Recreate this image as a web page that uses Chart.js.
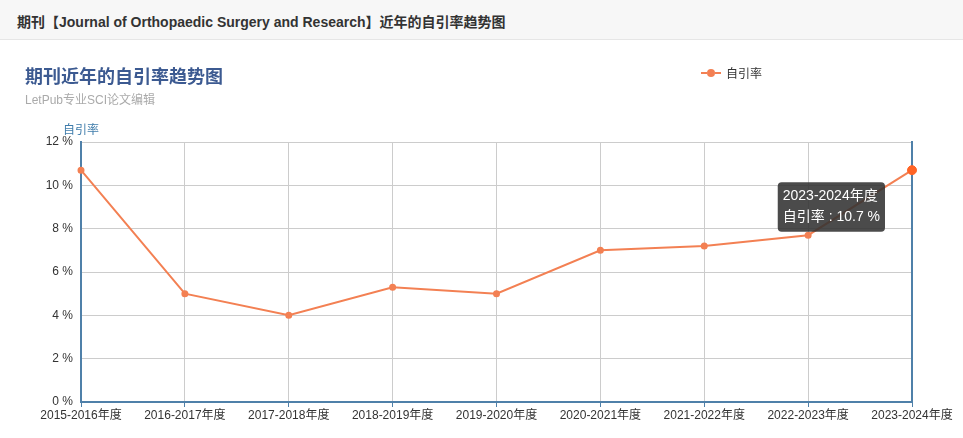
<!DOCTYPE html>
<html>
<head>
<meta charset="utf-8">
<script src="https://cdn.jsdelivr.net/npm/chart.js@4/dist/chart.umd.min.js"></script>
<style>
  html, body { margin:0; padding:0; background:#fff; }
  body { width:963px; height:438px; position:relative; overflow:hidden;
         font-family:"Liberation Sans", Arial, "Noto Sans CJK SC", sans-serif; }
  #header { position:absolute; left:0; top:0; width:963px; height:40px; background:#f7f7f7;
            border-bottom:1px solid #e6e6e6; box-sizing:border-box; }
  #header span { position:absolute; left:17px; top:11px; font-size:14px; font-weight:bold; color:#333; }
  #title { position:absolute; left:25px; top:62px; font-size:18px; font-weight:bold; color:#3c5a91; }
  #subtitle { position:absolute; left:25px; top:90px; font-size:12px; color:#aaa; }
  #legend { position:absolute; left:701px; top:64px; font-size:12px; color:#333; display:flex; align-items:center; }
  #legend .mk { position:relative; width:20px; height:14px; margin-right:5px; }
  #legend .mk .ln { position:absolute; left:0; top:6px; width:20px; height:2px;
                    background:repeating-linear-gradient(90deg,#f38053 0 6px,transparent 6px 7px); }
  #legend .mk .dt { position:absolute; left:6px; top:3px; width:8px; height:8px; border-radius:50%; background:#f38053; }
  canvas#c { position:absolute; left:0; top:0; }
</style>
</head>
<body>
<div id="header"><span>期刊【Journal of Orthopaedic Surgery and Research】近年的自引率趋势图</span></div>
<canvas id="c" width="963" height="438"></canvas>
<div id="title">期刊近年的自引率趋势图</div>
<div id="subtitle">LetPub专业SCI论文编辑</div>
<div id="legend"><div class="mk"><div class="ln"></div><div class="dt"></div></div><span id="legendText"></span></div>
<script>
const categories = ["2015-2016年度","2016-2017年度","2017-2018年度","2018-2019年度","2019-2020年度","2020-2021年度","2021-2022年度","2022-2023年度","2023-2024年度"];
const seriesName = "自引率";
const selfCitationRate = [10.7, 5.0, 4.0, 5.3, 5.0, 7.0, 7.2, 7.7, 10.7];
const yTicks = [0, 2, 4, 6, 8, 10, 12];

document.getElementById('legendText').textContent = seriesName;

const AXIS = '#4f80a9';
const LINE = '#f38053';
const FONT = '"Liberation Sans", Arial, "Noto Sans CJK SC", sans-serif';

Chart.Tooltip.positioners.offsetLeft = function(items) {
  if (!items.length) return false;
  const el = items[0].element;
  return { x: el.x - 31, y: el.y + 12 };
};

const yTitlePlugin = {
  id: 'yTitle',
  afterDraw(chart) {
    const ctx = chart.ctx, a = chart.chartArea;
    ctx.save();
    ctx.font = '12px ' + FONT;
    ctx.fillStyle = '#3f7cab';
    ctx.textAlign = 'center';
    ctx.textBaseline = 'middle';
    ctx.fillText(seriesName, a.left, a.top - 11);
    ctx.restore();
  }
};

const chart = new Chart(document.getElementById('c'), {
  type: 'line',
  data: {
    labels: categories,
    datasets: [{
      label: seriesName,
      data: selfCitationRate,
      borderColor: LINE,
      backgroundColor: LINE,
      borderWidth: 2,
      pointRadius: 2.5,
      pointHoverRadius: 4.5,
      pointHoverBorderWidth: 1,
      pointBackgroundColor: LINE,
      pointBorderColor: LINE,
      tension: 0,
      fill: false
    }]
  },
  options: {
    responsive: false,
    animation: false,
    events: [],
    layout: { padding: { top: 142, left: 0, right: 51, bottom: 0 } },
    plugins: {
      legend: { display: false },
      title: { display: false },
      tooltip: {
        enabled: true,
        position: 'offsetLeft',
        xAlign: 'right',
        yAlign: 'top',
        caretSize: 0,
        caretPadding: 0,
        backgroundColor: 'rgba(50,50,50,0.88)',
        titleColor: '#fff',
        bodyColor: '#fff',
        titleFont: { family: FONT, size: 14, weight: 'normal' },
        bodyFont: { family: FONT, size: 14 },
        titleMarginBottom: 4,
        padding: { left: 5, right: 5, top: 6, bottom: 6 },
        cornerRadius: 4,
        displayColors: false,
        callbacks: {
          label: (ctx) => ctx.dataset.label + ' : ' + ctx.parsed.y + ' %'
        }
      }
    },
    scales: {
      x: {
        offset: false,
        grid: { color: '#cccccc', lineWidth: 1, drawTicks: true, tickLength: 5, tickColor: AXIS },
        border: { color: AXIS, width: 2 },
        ticks: { color: '#333', font: { family: FONT, size: 12 }, maxRotation: 0, autoSkip: false, padding: 1 },
        afterFit(scale) { scale.height = 36; }
      },
      y: {
        min: 0, max: 12,
        afterBuildTicks(scale) { scale.ticks = yTicks.map(v => ({ value: v })); },
        grid: { color: '#cccccc', lineWidth: 1, drawTicks: false },
        border: { color: AXIS, width: 2 },
        ticks: { color: '#333', font: { family: FONT, size: 12 }, padding: 8,
                 callback: (v) => v + ' %' },
        afterFit(scale) { scale.width = 81; }
      },
      y2: {
        position: 'right',
        min: 0, max: 12,
        grid: { display: false, drawTicks: false },
        border: { color: AXIS, width: 2 },
        ticks: { display: false },
        afterFit(scale) { scale.width = 0; }
      }
    }
  },
  plugins: [yTitlePlugin]
});

const last = selfCitationRate.length - 1;
chart.tooltip.setActiveElements([{ datasetIndex: 0, index: last }], { x: 0, y: 0 });
chart.setActiveElements([{ datasetIndex: 0, index: last }]);
chart.update('none');
</script>
</body>
</html>
